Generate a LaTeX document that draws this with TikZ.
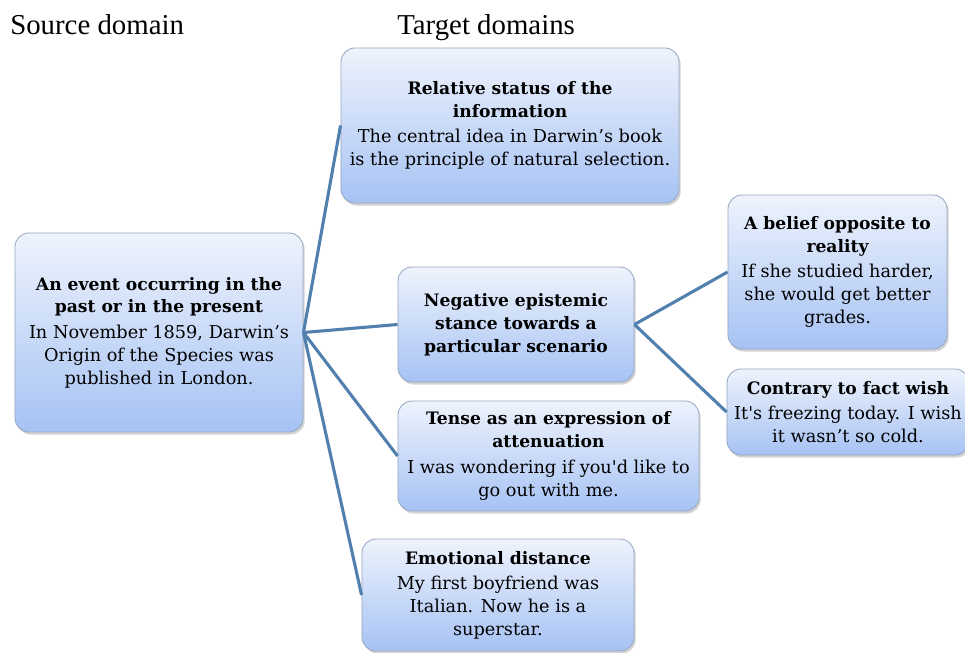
\documentclass[tikz,border=0pt]{standalone}
\usepackage{fontspec}
\setmainfont{DejaVu Serif}
\newfontfamily\headfont{Liberation Serif}
\usetikzlibrary{shadows, positioning}

\definecolor{boxtop}{HTML}{EEF3FC}
\definecolor{boxbot}{HTML}{A6C2F4}
\definecolor{boxline}{HTML}{97A8C2}
\definecolor{linkblue}{HTML}{5280AE}

\tikzset{
    domainbox/.style={draw=boxline, line width=0.6pt, rounded corners=10pt,
        top color=boxtop, bottom color=boxbot, align=center,
        font=\fontsize{12.6pt}{16.2pt}\selectfont, inner sep=2pt,
        drop shadow={shadow xshift=1.2pt, shadow yshift=-1.8pt, opacity=0.35}},
    head/.style={font=\headfont\fontsize{20.5pt}{24pt}\selectfont, anchor=base west, inner sep=0pt},
    link/.style={draw=linkblue, line width=2.2pt}
}
\newcommand{\ttl}[1]{{\bfseries\fontsize{12.2pt}{15pt}\selectfont #1}}

\begin{document}
\begin{tikzpicture}[x=0.025cm, y=-0.025cm]
    \useasboundingbox (0,0) rectangle (965,652);

    \node[head] (srchead) at (10,34) {Source domain};
    \node[head] (tgthead) at (397,34) {Target domains};

    \node[domainbox, minimum width=7.2cm, minimum height=4.975cm] (src) at (159,332.5)
        {\ttl{An event occurring in the}\\\ttl{past or in the present}\\[2pt]
         In November 1859, Darwin's\\Origin of the Species was\\published in London.};
    \node[domainbox, minimum width=8.45cm, minimum height=3.875cm] (rel) at (510,125.5)
        {\ttl{Relative status of the}\\\ttl{information}\\[2pt]
         The central idea in Darwin's book\\is the principle of natural selection.};
    \node[domainbox, minimum width=5.9cm, minimum height=2.875cm] (neg) at (516,324.5)
        {\ttl{Negative epistemic}\\\ttl{stance towards a}\\\ttl{particular scenario}};
    \node[domainbox, minimum width=7.525cm, minimum height=2.75cm] (tense) at (548.5,456)
        {\ttl{Tense as an expression of}\\\ttl{attenuation}\\[2pt]
         I was wondering if you\textquotesingle d like to\\go out with me.};
    \node[domainbox, minimum width=6.8cm, minimum height=2.8cm] (emo) at (498,595)
        {\ttl{Emotional distance}\\[2pt]
         My first boyfriend was\\Italian. Now he is a\\superstar.};
    \node[domainbox, minimum width=5.475cm, minimum height=3.85cm] (belief) at (837.5,272)
        {\ttl{A belief opposite to}\\\ttl{reality}\\[2pt]
         If she studied harder,\\she would get better\\grades.};
    \node[domainbox, minimum width=6.05cm, minimum height=2.15cm] (wish) at (848,412)
        {\ttl{Contrary to fact wish}\\[2pt]
         It\textquotesingle s freezing today. I wish\\it wasn't so cold.};

    % links from the source domain
    \draw[link] (src.east) -- (rel.west);
    \draw[link] (src.east) -- (neg.west);
    \draw[link] (src.east) -- (tense.west);
    \draw[link] (src.east) -- (emo.west);
    % links from the negative stance
    \draw[link] (neg.east) -- (belief.west);
    \draw[link] (neg.east) -- (wish.west);
\end{tikzpicture}
\end{document}
